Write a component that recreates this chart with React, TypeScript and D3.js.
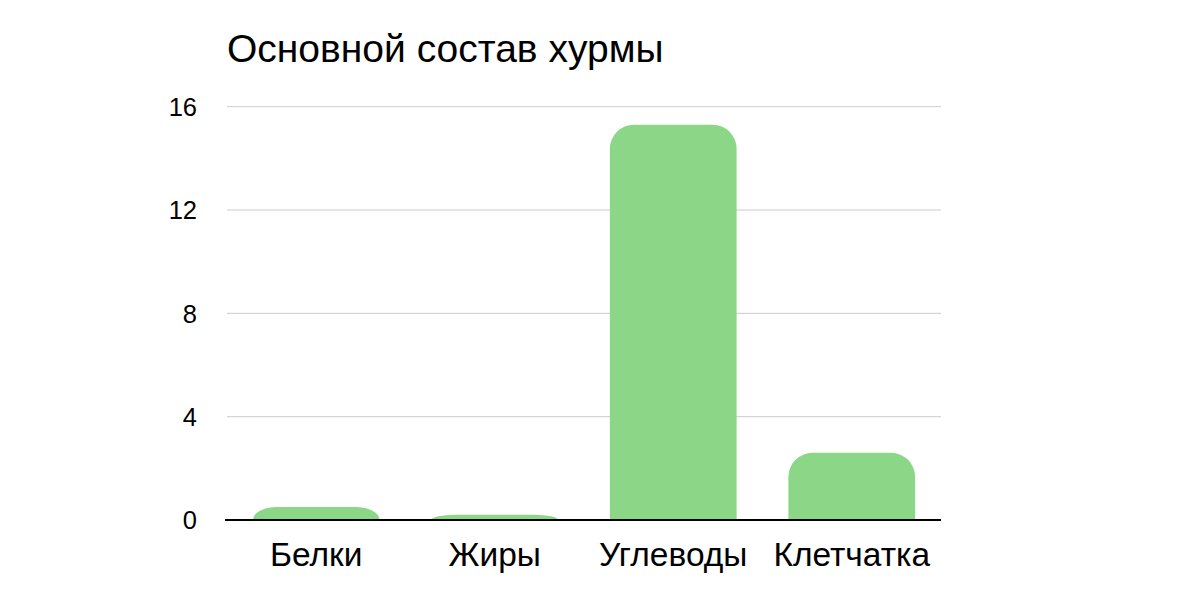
import React from "react";
import * as d3 from "d3";

const title = "Основной состав хурмы";
const categories = ["Белки", "Жиры", "Углеводы", "Клетчатка"];
const values = [0.5, 0.2, 15.3, 2.6];
const yTicks = [0, 4, 8, 12, 16];

const W = 1200;
const H = 598;
const left = 227;
const right = 941;
const top = 106.7;
const bottom = 520;

function barPath(x0: number, x1: number, y0: number, yb: number) {
  const h = yb - y0;
  const rx = 24;
  const ry = Math.min(24, h);
  return `M${x0},${yb} L${x0},${y0 + ry} A${rx},${ry} 0 0 1 ${x0 + rx},${y0} L${x1 - rx},${y0} A${rx},${ry} 0 0 1 ${x1},${y0 + ry} L${x1},${yb} Z`;
}

export default function App() {
  const x = d3.scaleBand<string>().domain(categories).range([left, right]).paddingInner(0.29).paddingOuter(0.145);
  const y = d3.scaleLinear().domain([0, 16]).range([bottom, top]);
  const font = "'Liberation Sans', Arial, Helvetica, sans-serif";
  return (
    <svg width={W} height={H} style={{ position: "absolute", left: 0, top: 0, background: "#fff" }}>
      <text x={227} y={62} fontFamily={font} fontSize={39} fill="#000">{title}</text>
      {yTicks.map((t) => (
        <g key={t}>
          {t !== 0 && <line x1={left} x2={right} y1={y(t)} y2={y(t)} stroke="#cccccc" strokeWidth={1} />}
          <text x={197} y={y(t)} dy="0.36em" textAnchor="end" fontFamily={font} fontSize={25.5} fill="#000">{t}</text>
        </g>
      ))}
      {categories.map((c, i) => {
        const x0 = x(c)!;
        const x1 = x0 + x.bandwidth();
        return <path key={c} d={barPath(x0, x1, y(values[i]), y(0))} fill="#8cd787" />;
      })}
      <line x1={225} x2={right} y1={bottom} y2={bottom} stroke="#000" strokeWidth={2} />
      {categories.map((c) => (
        <text key={c} x={x(c)! + x.bandwidth() / 2} y={566} textAnchor="middle" fontFamily={font} fontSize={33.5} fill="#000">{c}</text>
      ))}
    </svg>
  );
}
